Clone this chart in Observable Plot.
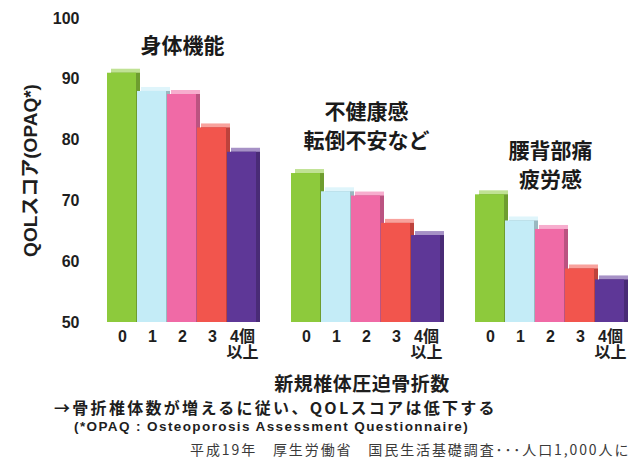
<!DOCTYPE html>
<html>
<head>
<meta charset="utf-8">
<script src="https://cdn.jsdelivr.net/npm/d3@7"></script>
<script src="https://cdn.jsdelivr.net/npm/@observablehq/plot@0.6"></script>
<style>
  body { margin: 0; background: #fff; }
  #wrap { position: relative; width: 633px; height: 462px; overflow: hidden; background: #fff;
          font-family: "Liberation Sans", "Noto Sans CJK JP", sans-serif; color: #1e1e1e; }
  .t { position: absolute; white-space: nowrap; line-height: 1; }
  #chart g[aria-label="y-axis label"] text { font-size: 19px; }
</style>
</head>
<body>
<div id="wrap">
  <div id="chart"></div>
  <div class="t" id="xlabel" style="left:0;width:724px;text-align:center;top:373px;font-size:19px;font-weight:bold;font-family:'Noto Sans CJK JP',sans-serif;letter-spacing:0.5px;">新規椎体圧迫骨折数</div>
  <div class="t" style="left:54px;top:399px;font-size:16px;letter-spacing:2.3px;font-weight:bold;font-family:'Noto Sans CJK JP',sans-serif;">→骨折椎体数が増えるに従い、QOLスコアは低下する</div>
  <div class="t" style="left:74px;top:420px;font-size:13.5px;letter-spacing:1.4px;font-weight:bold;">(*OPAQ : Osteoporosis Assessment Questionnaire)</div>
  <div class="t" style="left:190px;top:442px;font-size:14px;letter-spacing:1.9px;color:#3a3a3a;font-family:'Noto Sans CJK JP',sans-serif;">平成19年　厚生労働省　国民生活基礎調査･･･人口1,000人に</div>
</div>
<script>
// ---- data ----
const groups = ["身体機能", "不健康感\n転倒不安など", "腰背部痛\n疲労感"];
const counts = ["0", "1", "2", "3", "4個以上"];
const physical = [91, 88, 87.5, 82, 78];
const health = [74.5, 71.5, 70.8, 66.3, 64.3];
const pain = [71, 66.7, 65.3, 58.8, 57];
const barColors = ["#8dca3c", "#c4ecf7", "#f06aa6", "#f2554d", "#5e3797"];
const yTicks = [50, 60, 70, 80, 90, 100];
const yLabel = "QOLスコア(OPAQ*)";

// ---- table built from the arrays ----
const series = [physical, health, pain];
const rows = groups.flatMap((g, gi) =>
  series[gi].map((v, i) => ({group: g, count: counts[i], value: v, color: barColors[i]})));
const titleLift = [4.5, 7.7, 4.8]; // layout: how far above a group's tallest bar its title sits
const titleLines = groups.flatMap((g, gi) => {
  const lines = g.split("\n");
  return lines.map((line, k) => ({group: g, line, k, n: lines.length, y: d3.max(series[gi]) + titleLift[gi]}));
});

const lighter = c => d3.interpolateRgb(c, "#ffffff")(0.45);
const darker = c => d3.color(c).darker(0.7).formatHex();
const titleStyle = {fx: "group", y: "y", text: "line", fontSize: 21, fontWeight: "bold", fill: "#1a1a1a",
  fontFamily: "'Noto Sans CJK JP', sans-serif"};

const chart = Plot.plot({
  width: 633,
  height: 370,
  marginLeft: 106,
  marginRight: 8,
  marginTop: 18,
  marginBottom: 48,
  style: {fontFamily: "'Liberation Sans', 'Noto Sans CJK JP', sans-serif", fontSize: "16px", fontWeight: "bold", color: "#1e1e1e"},
  fx: {domain: groups, paddingInner: 0.187, paddingOuter: 0, axis: null},
  x: {domain: counts, padding: 0, tickSize: 0, tickPadding: 8,
      tickFormat: d => d === "4個以上" ? "4個\n以上" : d, label: null},
  y: {domain: [50, 100], ticks: yTicks, tickSize: 0, tickPadding: 28,
      label: yLabel, labelAnchor: "center", labelOffset: 84, labelArrow: "none"},
  marks: [
    Plot.barY(rows, {fx: "group", x: "count", y1: 50, y2: "value", insetRight: 1,
      fill: {value: d => lighter(d.color), scale: null}, dx: 4, dy: -4}),
    Plot.barY(rows, {fx: "group", x: "count", y1: 50, y2: "value", insetRight: 1,
      fill: {value: d => darker(d.color), scale: null}, dx: 4, dy: 0}),
    Plot.barY(rows, {fx: "group", x: "count", y1: 50, y2: "value", insetRight: 1,
      fill: {value: d => d.color, scale: null}}),
    Plot.text(titleLines.filter(d => d.n === 1), {...titleStyle, dy: 0}),
    Plot.text(titleLines.filter(d => d.n === 2 && d.k === 0), {...titleStyle, dy: -14.5}),
    Plot.text(titleLines.filter(d => d.n === 2 && d.k === 1), {...titleStyle, dy: 14.5})
  ]
});
document.getElementById("chart").appendChild(chart);
</script>
</body>
</html>
